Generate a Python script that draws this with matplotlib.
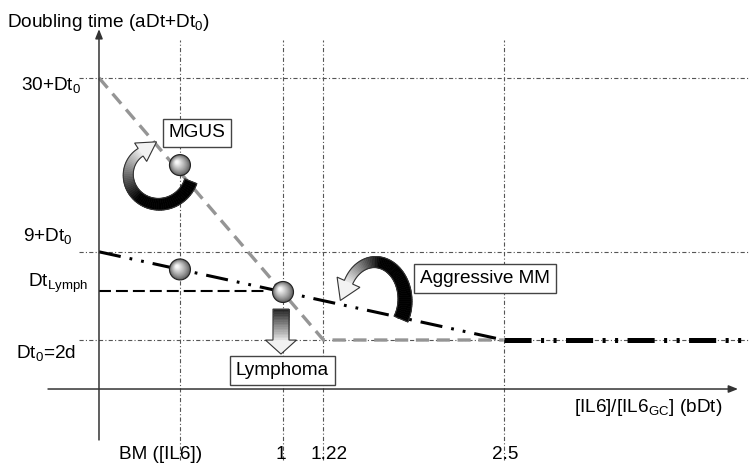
import numpy as np
import matplotlib
matplotlib.use('Agg')
import matplotlib.pyplot as plt
import matplotlib.transforms as mtransforms
from matplotlib.patches import Circle, Polygon
from matplotlib.collections import PolyCollection

plt.rcParams['font.family'] = ['Liberation Sans', 'DejaVu Sans']
plt.rcParams['mathtext.fontset'] = 'custom'
plt.rcParams['mathtext.rm'] = 'Liberation Sans'
plt.rcParams['mathtext.it'] = 'Liberation Sans:italic'
plt.rcParams['mathtext.default'] = 'regular'
plt.rcParams['lines.scale_dashes'] = False

# schematic units (the axes are not to scale)
x_ticks = [0.44, 1.0, 1.22, 2.2]
x_tick_labels = ['BM ([IL6])', '1', '1.22', '2.5']

y_levels = [12.7, 5.6, 2.0]
y_level_labels = ['30+Dt$_0$', '9+Dt$_0$', 'Dt$_0$=2d']
y_lymph = 4.0

# grey dashed line: MGUS -> lymphoma
mgus_x = [0.0, 1.22, 2.2]
mgus_y = [12.7, 2.0, 2.0]
# black dash-dot-dot line: aggressive MM
mm_x = [0.0, 2.2]
mm_y = [5.6, 2.0]
mm_tail_x = [2.2, 3.5]
mm_tail_y = [2.0, 2.0]
# black dashed Dt_Lymph line
lymph_x = [0.0, 0.92]
lymph_y = [y_lymph, y_lymph]

# grey balls
balls_x = [0.44, 0.44, 1.0]
balls_y = [9.14, 4.88, 3.96]

# boxed labels
box_text = ['MGUS', 'Aggressive MM', 'Lymphoma']
box_x = [0.533, 2.098, 0.997]
box_y = [10.45, 4.51, 0.755]

fig = plt.figure(figsize=(7.5, 4.69), dpi=100)
ax = fig.add_axes([0, 0, 1, 1])
ax.set_xlim(-0.538, 3.538)
ax.set_ylim(-3.265, 15.878)
ax.axis('off')

grid_style = dict(color='#555555', lw=0.8, ls=(0, (3, 1.6, 0.8, 1.6)), zorder=1)
for lv in y_levels:
    ax.plot([-0.11, 3.54], [lv, lv], **grid_style)
for xt in x_ticks:
    ax.plot([xt, xt], [-2.9, 14.24], **grid_style)

# axes with arrow heads
arr = dict(arrowstyle='-|>,head_length=0.55,head_width=0.22', color='#333333',
           lw=1.1, shrinkA=0, shrinkB=0)
ax.annotate('', xy=(0, 14.69), xytext=(0, -2.08), arrowprops=arr, zorder=3)
ax.annotate('', xy=(3.473, 0), xytext=(-0.277, 0), arrowprops=arr, zorder=3)

# curves
ax.plot(mgus_x, mgus_y, color='#959595', lw=2.4, ls=(0, (9.5, 5.5)),
        solid_capstyle='butt', zorder=2)
ax.plot(mm_x, mm_y, color='black', lw=2.2, ls=(0, (16, 6.5, 2, 6.5, 2, 6.5)), zorder=2)
ax.plot(mm_tail_x, mm_tail_y, color='black', lw=3.6, ls=(0, (19.5, 6.8, 2.2, 6.8, 2.2, 6.8)), zorder=2)
ax.plot(lymph_x, lymph_y, color='black', lw=1.5, ls=(0, (8.6, 3.6)), zorder=2)


def px_trans(x, y):
    return mtransforms.Affine2D() + mtransforms.ScaledTranslation(x, y, ax.transData)


def block_arrow(x, y, pts, w0, w1, head_w, head_len, dark_until, c0=0.0, c1=0.93):
    pts = np.asarray(pts, float)
    tr = px_trans(x, y)
    d = np.gradient(pts, axis=0)
    d /= np.linalg.norm(d, axis=1)[:, None]
    nrm = np.column_stack([-d[:, 1], d[:, 0]])
    w = np.linspace(w0, w1, len(pts))[:, None] / 2
    left = pts + nrm * w
    right = pts - nrm * w
    s = np.linspace(0, 1, len(pts))
    g = np.clip((s - dark_until) / (1 - dark_until), 0, 1)
    cols = plt.cm.gray(c0 + (c1 - c0) * g)
    quads = [[left[i], left[i + 1], right[i + 1], right[i]] for i in range(len(pts) - 1)]
    pc = PolyCollection(quads, facecolors=cols[:-1], edgecolors=cols[:-1],
                        linewidths=0.5, transform=tr, zorder=5)
    ax.add_collection(pc, autolim=False)
    base, dr, nb = pts[-1], d[-1], nrm[-1]
    head = [base + nb * head_w / 2, base + dr * head_len, base - nb * head_w / 2]
    ax.add_patch(Polygon(head, closed=True, fc='#f2f2f2', ec='none', transform=tr, zorder=5))
    outline = np.vstack([left, head, right[::-1]])
    ax.add_patch(Polygon(outline, closed=True, fill=False, ec='#333333', lw=0.8,
                         transform=tr, zorder=6))


# MGUS curl (around the upper ball)
t = np.radians(np.linspace(-15, -232, 60))
r = np.linspace(36, 25, 60)
block_arrow(0.31, 8.86, np.column_stack([r * np.cos(t), r * np.sin(t)]),
            13, 9, 22, 19, 0.5)

# Aggressive MM curl
t = np.radians(np.linspace(-30, 152, 60))
block_arrow(1.5, 3.63, np.column_stack([30 * np.cos(t), 38 * np.sin(t)]),
            15, 9, 25, 20, 0.6)

# Lymphoma straight arrow
block_arrow(0.989, 3.63, np.column_stack([np.zeros(20), np.linspace(-9, -40, 20)]),
            16, 16, 31, 14, 0.0, c0=0.15, c1=0.92)


def ball(x, y, r=10.5):
    tr = px_trans(x, y)
    n = 14
    for k in range(n):
        f = k / (n - 1)
        rad = r * (1 - 0.85 * f)
        off = 0.28 * r * f
        grey = 0.35 + 0.62 * f ** 0.8
        ax.add_patch(Circle((-off, off), rad, fc=str(grey), ec='none',
                            transform=tr, zorder=7))
    ax.add_patch(Circle((0, 0), r, fill=False, ec='#222222', lw=0.8, transform=tr, zorder=7))


for bx, by in zip(balls_x, balls_y):
    ball(bx, by)

fs = 13.7
for s, bx, by in zip(box_text, box_x, box_y):
    ax.text(bx, by, s, ha='center', va='center', fontsize=fs, zorder=8,
            bbox=dict(boxstyle='square,pad=0.3', fc='white', ec='#444444', lw=1))

# y level labels (offsets in pixels from the axis)
lab_dx = [-78, -76, -83]
lab_dy = [-12, 11, -18]
for lv, s, dx, dy in zip(y_levels, y_level_labels, lab_dx, lab_dy):
    ax.annotate(s, xy=(0, lv), xytext=(dx, dy), textcoords='offset pixels',
                ha='left', va='baseline', fontsize=fs)
ax.annotate('Dt$_{Lymph}$', xy=(0, y_lymph), xytext=(-71, 4), textcoords='offset pixels',
            ha='left', va='baseline', fontsize=fs)

# x tick labels
tick_dx = [-19, -2, 6, 1]
for xt, s, dx in zip(x_ticks, x_tick_labels, tick_dx):
    ax.annotate(s, xy=(xt, -2.86), xytext=(dx, 0), textcoords='offset pixels',
                ha='center', va='baseline', fontsize=fs)

ax.text(2.58, -0.94, '[IL6]/[IL6$_{GC}$] (bDt)', ha='left', va='baseline', fontsize=fs)
ax.text(-0.5, 14.79, 'Doubling time (aDt+Dt$_0$)', ha='left', va='baseline', fontsize=fs)

fig.savefig('out.png', dpi=100)
